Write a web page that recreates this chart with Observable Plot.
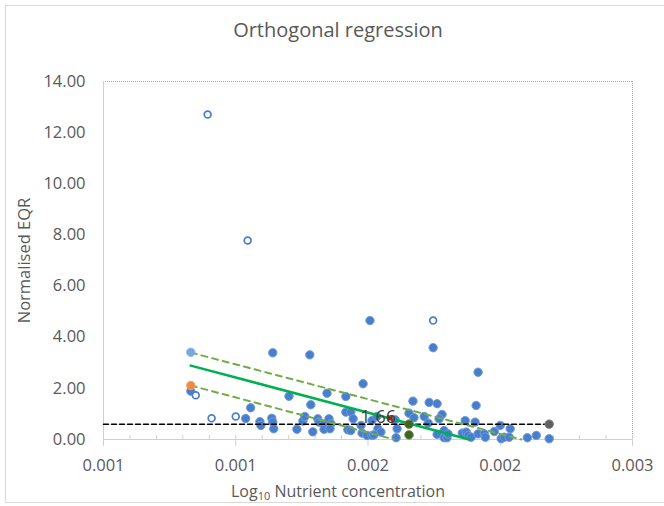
<!DOCTYPE html>
<html>
<head>
<meta charset="utf-8">
<script src="https://cdn.jsdelivr.net/npm/d3@7"></script>
<script src="https://cdn.jsdelivr.net/npm/@observablehq/plot@0.6"></script>
<style>
  html, body { margin: 0; padding: 0; background: #fff; }
  #wrap { position: relative; width: 664px; height: 506px; overflow: hidden; font-family: "Open Sans", "Noto Sans", sans-serif; color: #595959; }
  #border { position: absolute; left: 5px; top: 5px; width: 720px; height: 498px; border: 1px solid #D9D9D9; box-sizing: border-box; }
  #title { position: relative; height: 50px; box-sizing: border-box; padding-top: 18px; padding-left: 12px; text-align: center; font-size: 20px; line-height: 24px; }
  #chart { position: relative; height: 428px; }
  #xlabel { position: relative; height: 28px; line-height: 26px; text-align: center; padding-left: 12px; font-size: 16px; }
  #xlabel sub { font-size: 11px; vertical-align: -3px; line-height: 0; }
</style>
</head>
<body>
<div id="wrap">
  <div id="border"></div>
  <div id="title">Orthogonal regression</div>
  <div id="chart"></div>
  <div id="xlabel">Log<sub>10</sub> Nutrient concentration</div>
</div>
<script>
// ---- Tick values and labels ----
const xTicks = [0.0010, 0.0014, 0.0018, 0.0022, 0.0026];
const xTickLabels = ["0.001", "0.001", "0.002", "0.002", "0.003"];
const yTicks = [0, 2, 4, 6, 8, 10, 12, 14];

// ---- Data (x = log10 nutrient concentration, y = normalised EQR) ----
const filledPoints = [
  [0.001264, 1.89], [0.001512, 3.39], [0.001624, 3.31], [0.001561, 1.69], [0.001627, 1.36],
  [0.001445, 1.24], [0.001430, 0.82], [0.001473, 0.70], [0.001476, 0.55], [0.001509, 0.83],
  [0.001512, 0.68], [0.001515, 0.42], [0.001585, 0.40], [0.001603, 0.72], [0.001609, 0.90],
  [0.001633, 0.30], [0.001806, 4.65], [0.001785, 2.18], [0.001676, 1.81], [0.001733, 1.68],
  [0.001936, 1.50], [0.001985, 1.45], [0.001648, 0.81], [0.001652, 0.68], [0.001667, 0.61],
  [0.001667, 0.40], [0.001682, 0.81], [0.001688, 0.61], [0.001685, 0.42], [0.001733, 1.07],
  [0.001748, 1.07], [0.001755, 0.81], [0.001739, 0.38], [0.001748, 0.35], [0.001779, 0.55],
  [0.001782, 0.25], [0.001797, 0.16], [0.001812, 0.16], [0.001812, 0.74], [0.001827, 0.90],
  [0.001830, 0.42], [0.001839, 0.29], [0.001818, 0.18], [0.001882, 0.77], [0.001888, 0.42],
  [0.001885, 0.07], [0.001924, 1.03], [0.001939, 0.85], [0.001970, 0.90], [0.001982, 0.64],
  [0.001997, 3.59], [0.002133, 2.63], [0.002009, 1.40], [0.002127, 1.33], [0.002024, 0.98],
  [0.002015, 0.81], [0.002094, 0.74], [0.002124, 0.68], [0.002200, 0.55], [0.002230, 0.42],
  [0.002182, 0.31], [0.002009, 0.20], [0.002030, 0.35], [0.002030, 0.07], [0.002039, 0.07],
  [0.002042, 0.22], [0.002085, 0.25], [0.002097, 0.29], [0.002103, 0.16], [0.002112, 0.09],
  [0.002133, 0.22], [0.002152, 0.22], [0.002155, 0.09], [0.002203, 0.03], [0.002212, 0.09],
  [0.002227, 0.09], [0.002282, 0.07], [0.002309, 0.16], [0.002348, 0.03]
];
const hollowPoints = [
  [0.001315, 12.71], [0.001436, 7.78], [0.001279, 1.73], [0.001327, 0.83], [0.001400, 0.90], [0.001997, 4.65]
];
const lightBluePoint = [[0.001264, 3.41]];
const orangePoint = [[0.001264, 2.11]];
const darkGreenPoints = [[0.001924, 0.60], [0.001924, 0.18]];
const grayPoint = [[0.002348, 0.60]];
const redMarker = [[0.001867, 0.83]];
const redMarkerLabel = ["1.66"];

const fitLine = [[0.001264, 2.89], [0.002106, 0]];
const upperBound = [[0.001264, 3.40], [0.002264, 0]];
const lowerBound = [[0.001264, 2.11], [0.001879, 0]];
const thresholdLine = [[0.0010, 0.60], [0.002348, 0.60]];

// minor tick positions (5 per major interval)
const xMinor = d3.range(0, (xTicks.length - 1) * 5 + 1).map(i => xTicks[0] + i * (xTicks[1] - xTicks[0]) / 5);

const X = d => d[0], Y = d => d[1];

const chart = Plot.plot({
  width: 664,
  height: 428,
  marginLeft: 103,
  marginRight: 32,
  marginTop: 31,
  marginBottom: 39,
  style: { fontFamily: "'Open Sans', 'Noto Sans', sans-serif", fontSize: "16.5px", color: "#595959", background: "transparent", overflow: "visible" },
  x: { domain: [xTicks[0], xTicks[xTicks.length - 1]] },
  y: { domain: [yTicks[0], yTicks[yTicks.length - 1]] },
  marks: [
    // frame: dotted top/right, solid left/bottom axis lines
    Plot.ruleY([yTicks[yTicks.length - 1]], { stroke: "#A6A6A6", strokeDasharray: "1,1" }),
    Plot.ruleX([xTicks[xTicks.length - 1]], { stroke: "#A6A6A6", strokeDasharray: "1,1" }),
    Plot.ruleX([xTicks[0]], { stroke: "#D0D0D0" }),
    Plot.ruleY([yTicks[0]], { stroke: "#D0D0D0" }),
    Plot.tickX(xMinor, { x: d => d, stroke: "#D0D0D0", insetTop: 354 }),
    Plot.axisX({ ticks: xTicks, tickFormat: d => xTickLabels[xTicks.indexOf(d)], tickSize: 7, tickPadding: 13, stroke: "#D0D0D0", label: null }),
    Plot.axisY({ ticks: yTicks, tickFormat: d => d.toFixed(2), tickSize: 0, tickPadding: 18, label: "Normalised EQR", labelAnchor: "center", labelOffset: 85, labelArrow: "none" }),
    // data
    Plot.dot(filledPoints, { x: X, y: Y, r: 4.2, fill: "#4A7DCB", stroke: "#6E9EDB", strokeWidth: 1 }),
    Plot.dot(hollowPoints, { x: X, y: Y, r: 3.4, fill: "white", stroke: "#4A7DCB", strokeWidth: 1.7 }),
    Plot.line(thresholdLine, { x: X, y: Y, stroke: "#000", strokeWidth: 1.5, strokeDasharray: "5,3" }),
    Plot.line(upperBound, { x: X, y: Y, stroke: "#70AD47", strokeWidth: 2, strokeDasharray: "6,5" }),
    Plot.line(lowerBound, { x: X, y: Y, stroke: "#70AD47", strokeWidth: 2, strokeDasharray: "6,5" }),
    Plot.line(fitLine, { x: X, y: Y, stroke: "#00B050", strokeWidth: 2.5 }),
    Plot.dot(lightBluePoint, { x: X, y: Y, r: 4.2, fill: "#74A9DF", stroke: "#8DBBE6", strokeWidth: 1 }),
    Plot.dot(orangePoint, { x: X, y: Y, r: 4.2, fill: "#F0883E", stroke: "#F4A26B", strokeWidth: 1 }),
    Plot.dot(darkGreenPoints, { x: X, y: Y, r: 4.2, fill: "#3F6424", stroke: "#5A7E40", strokeWidth: 1 }),
    Plot.dot(grayPoint, { x: X, y: Y, r: 4.2, fill: "#5F5F5F", stroke: "#7A7A7A", strokeWidth: 1 }),
    Plot.dot(redMarker, { x: X, y: Y, symbol: "times", r: 2.6, stroke: "#E00000", strokeWidth: 2 }),
    Plot.text(redMarker, { x: X, y: Y, text: (d, i) => redMarkerLabel[i], dx: -12, dy: -1, fontSize: 18, fill: "#404040" })
  ]
});
document.getElementById("chart").appendChild(chart);
</script>
</body>
</html>
